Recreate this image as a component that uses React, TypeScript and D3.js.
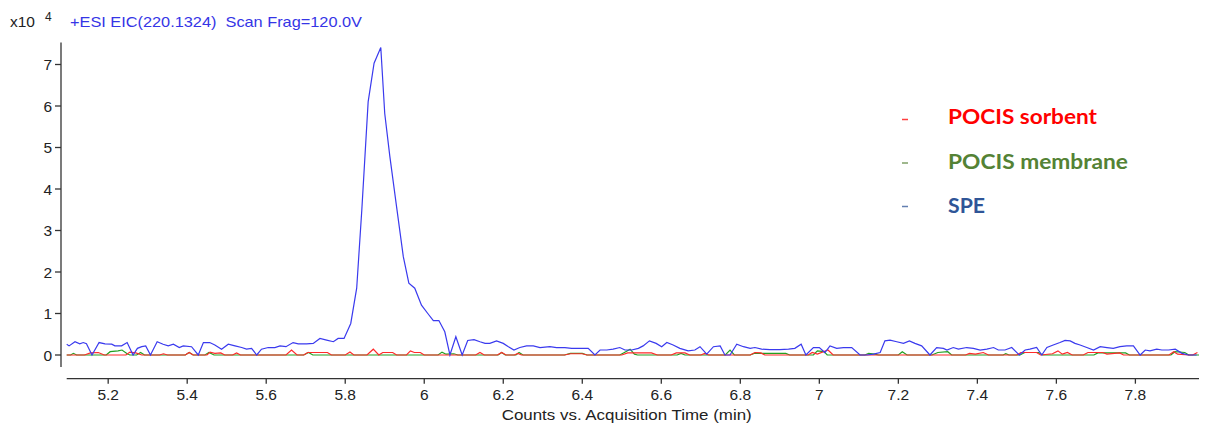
import React from "react";
import * as d3 from "d3";

// ---- data (time in min, counts in x10^4) ----
const spePoints: [number, number][] = [
  [5.095, 0.26], [5.101, 0.22], [5.116, 0.32], [5.128, 0.27], [5.137, 0.3], [5.145, 0.27], [5.159, 0],
  [5.177, 0.3], [5.192, 0.27], [5.209, 0.26], [5.217, 0.22], [5.234, 0.22], [5.248, 0.3], [5.263, 0],
  [5.274, 0.16], [5.285, 0.2], [5.295, 0.22], [5.307, 0], [5.324, 0.32], [5.339, 0.26], [5.352, 0.22],
  [5.365, 0.26], [5.38, 0.18], [5.39, 0.22], [5.411, 0.2], [5.428, 0], [5.441, 0.3], [5.457, 0.3],
  [5.47, 0.24], [5.487, 0.14], [5.504, 0.26], [5.521, 0.22], [5.538, 0.18], [5.55, 0.14], [5.563, 0.16],
  [5.576, 0], [5.588, 0.14], [5.605, 0.18], [5.622, 0.18], [5.635, 0.22], [5.65, 0.2], [5.668, 0.3],
  [5.681, 0.27], [5.702, 0.27], [5.719, 0.28], [5.736, 0.4], [5.753, 0.36], [5.77, 0.32], [5.782, 0.4],
  [5.797, 0.4], [5.814, 0.76], [5.829, 1.61], [5.842, 3.5], [5.858, 6.1], [5.873, 7.03], [5.89, 7.41],
  [5.9, 5.82], [5.913, 4.78], [5.93, 3.57], [5.947, 2.37], [5.961, 1.73], [5.976, 1.61], [5.993, 1.2],
  [6.009, 1.0], [6.023, 0.83], [6.037, 0.83], [6.052, 0.56], [6.065, 0], [6.08, 0.44], [6.096, 0],
  [6.11, 0.35], [6.126, 0.37], [6.141, 0.32], [6.154, 0.28], [6.166, 0.28], [6.183, 0.34], [6.2, 0.28],
  [6.213, 0.2], [6.227, 0.12], [6.242, 0.18], [6.259, 0.22], [6.276, 0.22], [6.293, 0.18], [6.318, 0.2],
  [6.335, 0.18], [6.356, 0.18], [6.373, 0.16], [6.394, 0.16], [6.415, 0.16], [6.432, 0], [6.445, 0.12],
  [6.462, 0.12], [6.478, 0.14], [6.495, 0.18], [6.508, 0.12], [6.525, 0.12], [6.542, 0.16], [6.554, 0.22],
  [6.57, 0.34], [6.587, 0.28], [6.601, 0.2], [6.614, 0.3], [6.63, 0.24], [6.647, 0.16], [6.668, 0.1],
  [6.685, 0.12], [6.698, 0.2], [6.715, 0.02], [6.732, 0.2], [6.749, 0.22], [6.761, 0], [6.774, 0],
  [6.791, 0.26], [6.808, 0.2], [6.825, 0.16], [6.837, 0.18], [6.854, 0.14], [6.875, 0.13], [6.9, 0.13],
  [6.922, 0.14], [6.938, 0.16], [6.954, 0.26], [6.966, 0], [6.985, 0.18], [7.0, 0.18], [7.014, 0.06],
  [7.027, 0.22], [7.044, 0.16], [7.061, 0.18], [7.082, 0.18], [7.103, 0], [7.12, 0], [7.137, 0.02],
  [7.154, 0.06], [7.166, 0.34], [7.179, 0.36], [7.196, 0.32], [7.213, 0.28], [7.228, 0.34], [7.242, 0.28],
  [7.259, 0.22], [7.28, 0], [7.297, 0.18], [7.314, 0.16], [7.323, 0.12], [7.339, 0.18], [7.352, 0.14],
  [7.373, 0.18], [7.39, 0.16], [7.407, 0.12], [7.424, 0.14], [7.441, 0.18], [7.453, 0.12], [7.47, 0.12],
  [7.487, 0.18], [7.506, 0], [7.521, 0.12], [7.533, 0.14], [7.55, 0.18], [7.563, 0], [7.576, 0.18],
  [7.592, 0.24], [7.609, 0.3], [7.622, 0.35], [7.635, 0.34], [7.647, 0.28], [7.66, 0.24], [7.677, 0.18],
  [7.694, 0.12], [7.711, 0.2], [7.728, 0.18], [7.744, 0.16], [7.761, 0.2], [7.778, 0.22], [7.795, 0.22],
  [7.812, 0], [7.825, 0.12], [7.837, 0.1], [7.854, 0.14], [7.867, 0.12], [7.884, 0.12], [7.901, 0.14],
  [7.918, 0.04], [7.934, 0], [7.955, 0],
];

const sorbentPoints: [number, number][] = [
  [5.095, 0], [5.14, 0], [5.155, 0.05], [5.175, 0.06], [5.19, 0], [5.245, 0], [5.255, 0.07], [5.27, 0.05],
  [5.285, 0], [5.33, 0], [5.34, 0.03], [5.35, 0], [5.395, 0], [5.405, 0.06], [5.415, 0], [5.45, 0],
  [5.458, 0.07], [5.47, 0.04], [5.485, 0.05], [5.495, 0], [5.515, 0], [5.525, 0.05], [5.535, 0],
  [5.65, 0], [5.664, 0.12], [5.678, 0], [5.695, 0], [5.705, 0.06], [5.755, 0.06], [5.765, 0], [5.8, 0],
  [5.812, 0.07], [5.822, 0], [5.855, 0], [5.871, 0.14], [5.885, 0], [5.895, 0.06], [5.92, 0.06], [5.93, 0],
  [5.955, 0], [5.965, 0.1], [5.975, 0.06], [5.99, 0.06], [6.0, 0], [6.13, 0], [6.141, 0.06], [6.152, 0],
  [6.185, 0], [6.196, 0.06], [6.207, 0], [6.228, 0], [6.237, 0.04], [6.246, 0], [6.355, 0], [6.37, 0.03],
  [6.4, 0.03], [6.412, 0], [6.5, 0], [6.515, 0.05], [6.575, 0.05], [6.59, 0], [6.625, 0], [6.638, 0.05],
  [6.66, 0.05], [6.672, 0], [6.7, 0], [6.71, 0.04], [6.72, 0], [6.825, 0], [6.837, 0.06], [6.852, 0.05],
  [6.862, 0], [6.972, 0], [6.982, 0.06], [6.995, 0.02], [7.022, 0.12], [7.035, 0], [7.37, 0],
  [7.38, 0.04], [7.395, 0.02], [7.415, 0.06], [7.428, 0], [7.5, 0], [7.51, 0.06], [7.55, 0.06],
  [7.56, 0], [7.59, 0.03], [7.604, 0.1], [7.615, 0.02], [7.628, 0.06], [7.64, 0], [7.668, 0],
  [7.68, 0.06], [7.717, 0.06], [7.728, 0.02], [7.76, 0.05], [7.77, 0], [7.885, 0], [7.897, 0.08],
  [7.907, 0.02], [7.935, 0], [7.945, 0], [7.957, 0.06],
];

const membranePoints: [number, number][] = [
  [5.095, 0], [5.105, 0], [5.112, 0.04], [5.12, 0], [5.195, 0], [5.205, 0.08], [5.225, 0.1],
  [5.235, 0.12], [5.248, 0.03], [5.255, 0], [5.272, 0], [5.282, 0.06], [5.292, 0], [5.395, 0],
  [5.405, 0.06], [5.415, 0], [5.445, 0], [5.455, 0.06], [5.468, 0], [5.695, 0], [5.707, 0.06],
  [5.718, 0], [6.035, 0], [6.045, 0.07], [6.055, 0.02], [6.075, 0.03], [6.085, 0], [6.187, 0],
  [6.196, 0.06], [6.205, 0], [6.232, 0], [6.24, 0.06], [6.25, 0], [6.355, 0], [6.37, 0.04], [6.4, 0.04],
  [6.412, 0], [6.495, 0], [6.51, 0.08], [6.521, 0.14], [6.532, 0.02], [6.54, 0], [6.64, 0],
  [6.65, 0.04], [6.66, 0], [6.762, 0], [6.774, 0.12], [6.785, 0], [6.825, 0], [6.835, 0.04],
  [6.915, 0.04], [6.925, 0], [6.985, 0], [6.995, 0.1], [7.012, 0.08], [7.02, 0], [7.115, 0],
  [7.125, 0.04], [7.14, 0.02], [7.15, 0], [7.2, 0], [7.21, 0.08], [7.222, 0], [7.285, 0],
  [7.3, 0.06], [7.325, 0.08], [7.335, 0], [7.465, 0], [7.472, 0.03], [7.48, 0], [7.508, 0],
  [7.52, 0.06], [7.555, 0.06], [7.565, 0], [7.695, 0], [7.705, 0.05], [7.775, 0.05], [7.785, 0],
  [7.89, 0], [7.9, 0.08], [7.925, 0.06], [7.935, 0], [7.961, 0],
];

const yTicks = [0, 1, 2, 3, 4, 5, 6, 7];
const xTicks = [5.2, 5.4, 5.6, 5.8, 6, 6.2, 6.4, 6.6, 6.8, 7, 7.2, 7.4, 7.6, 7.8];

const legendLabels = ["POCIS sorbent", "POCIS membrane", "SPE"];
const legendColors = ["#ff0000", "#548235", "#2f5597"];
const legendWidths = [149, 180, 37];

const W = 1208;
const H = 432;

export default function App() {
  const x = d3.scaleLinear().domain([5.095, 7.961]).range([66.7, 1199]);
  const y = d3.scaleLinear().domain([0, 7]).range([355, 64.5]);
  const line = d3
    .line<[number, number]>()
    .x((d) => x(d[0]))
    .y((d) => y(d[1]));

  const axisColor = "#333";
  const font = "'Liberation Sans', Arial, sans-serif";
  const yAxisX = 61;
  const xAxisY = 378.7;

  return (
    <svg
      width={W}
      height={H}
      style={{ position: "absolute", left: 0, top: 0, background: "#fff" }}
      fontFamily={font}
    >
      <rect x={0} y={0} width={W} height={H} fill="#fff" />
      {/* header */}
      <text x={10} y={27} fontSize={15} fill="#222" textLength={25} lengthAdjust="spacingAndGlyphs">x10</text>
      <text x={45} y={21} fontSize={12} fill="#222">4</text>
      <text x={70} y={27} fontSize={15} fill="#3535e6" xmlSpace="preserve" textLength={292} lengthAdjust="spacingAndGlyphs">
        +ESI EIC(220.1324)  Scan Frag=120.0V
      </text>

      {/* y axis */}
      <line x1={yAxisX} x2={yAxisX} y1={y(7.53)} y2={y(-0.29)} stroke={axisColor} strokeWidth={1.3} />
      {yTicks.map((t) => (
        <g key={t}>
          <line x1={yAxisX - 6} x2={yAxisX} y1={y(t)} y2={y(t)} stroke={axisColor} strokeWidth={1.3} />
          <text x={yAxisX - 9} y={y(t) + 5.5} fontSize={15.5} textAnchor="end" fill="#222">
            {t}
          </text>
        </g>
      ))}

      {/* x axis */}
      <line x1={x(5.095)} x2={x(7.961)} y1={xAxisY} y2={xAxisY} stroke={axisColor} strokeWidth={1.3} />
      {xTicks.map((t) => (
        <g key={t}>
          <line x1={x(t)} x2={x(t)} y1={xAxisY} y2={xAxisY + 5} stroke={axisColor} strokeWidth={1.3} />
          <text x={x(t)} y={xAxisY + 21} fontSize={15.5} textAnchor="middle" fill="#222">
            {d3.format("")(t)}
          </text>
        </g>
      ))}
      <text x={501.7} y={420} fontSize={15.5} fill="#222" textLength={250} lengthAdjust="spacingAndGlyphs">
        Counts vs. Acquisition Time (min)
      </text>

      {/* traces */}
      <path d={line(membranePoints) || ""} fill="none" stroke="#22a022" strokeWidth={1.2} />
      <path d={line(sorbentPoints) || ""} fill="none" stroke="#ff2a2a" strokeWidth={1.2} />
      <path d={line(spePoints) || ""} fill="none" stroke="#3a3aee" strokeWidth={1.2} />

      {/* legend */}
      {legendLabels.map((label, i) => (
        <g key={label}>
          <line x1={902} x2={908} y1={119.5 + i * 43.5} y2={119.5 + i * 43.5} stroke={legendColors[i]} strokeWidth={1.5} opacity={0.75} />
          <text
            x={948}
            y={124.3 + i * 44.5}
            fontSize={20}
            fontWeight="bold"
            fill={legendColors[i]}
            fontFamily="Lato, 'Open Sans', sans-serif"
            textLength={legendWidths[i]}
            lengthAdjust="spacingAndGlyphs"
          >
            {label}
          </text>
        </g>
      ))}
    </svg>
  );
}
